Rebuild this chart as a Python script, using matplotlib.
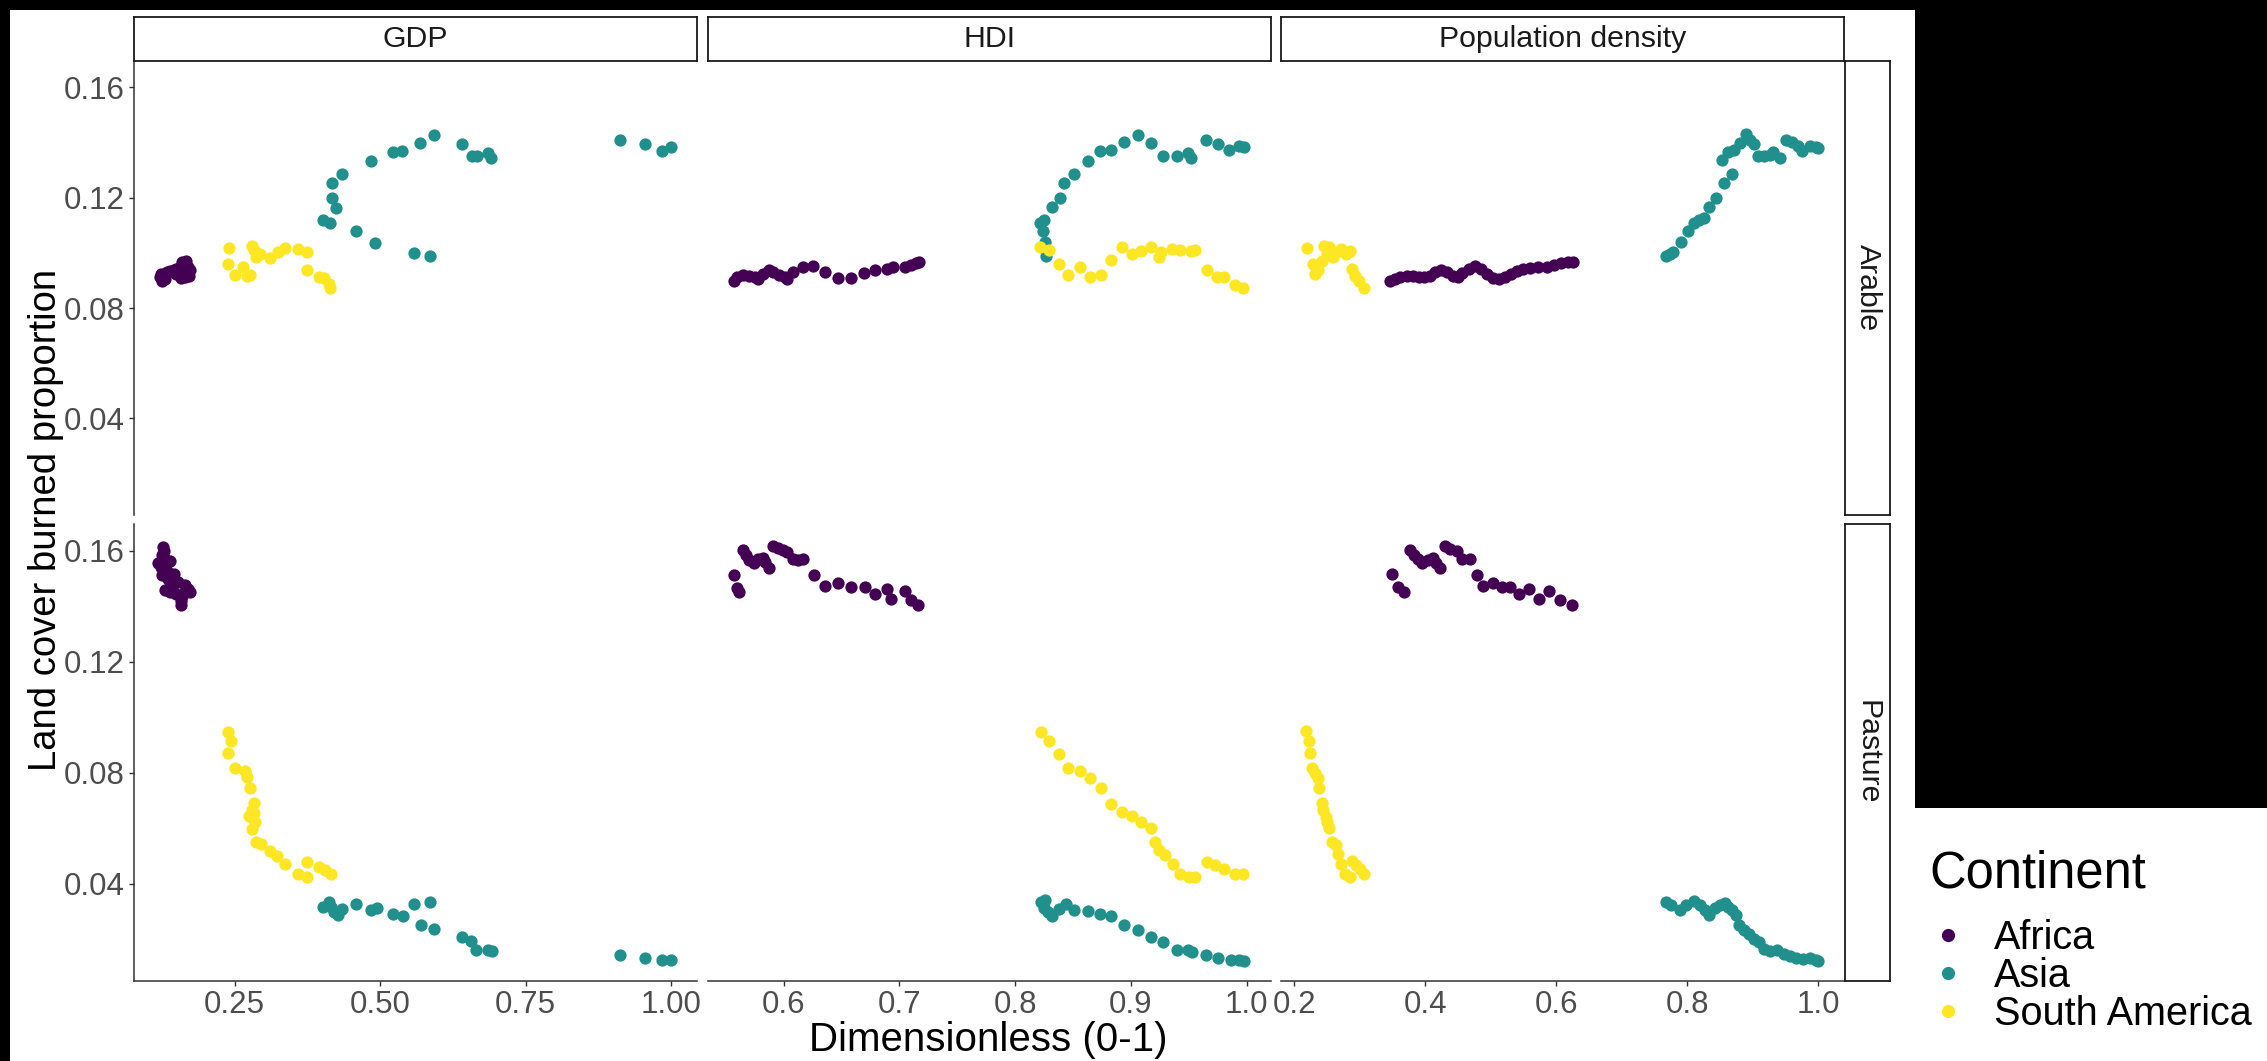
import matplotlib
matplotlib.use("Agg")
import matplotlib.pyplot as plt
from matplotlib.patches import Rectangle
from matplotlib.lines import Line2D

plt.rcParams['font.family'] = ['Liberation Sans', 'DejaVu Sans']

# ---------------- data ----------------
continents = ["Africa", "Asia", "South America"]
continent_colours = ["#440154", "#21908C", "#FDE725"]
drivers = ["GDP", "HDI", "Population density"]
land_covers = ["Arable", "Pasture"]

y_ticks = [0.04, 0.08, 0.12, 0.16]
y_tick_labels = ["0.04", "0.08", "0.12", "0.16"]
gdp_ticks = [0.25, 0.50, 0.75, 1.00]
gdp_tick_labels = ["0.25", "0.50", "0.75", "1.00"]
hdi_ticks = [0.6, 0.7, 0.8, 0.9, 1.0]
hdi_tick_labels = ["0.6", "0.7", "0.8", "0.9", "1.0"]
pop_ticks = [0.2, 0.4, 0.6, 0.8, 1.0]
pop_tick_labels = ["0.2", "0.4", "0.6", "0.8", "1.0"]

# GDP / Arable
gdp_arable_africa_x = [0.122, 0.125, 0.129, 0.134, 0.139, 0.145, 0.150, 0.155, 0.159, 0.164,
                       0.169, 0.173, 0.160, 0.157, 0.164, 0.171, 0.131, 0.124, 0.150, 0.167]
gdp_arable_africa_y = [0.0914, 0.0900, 0.0924, 0.0930, 0.0934, 0.0938, 0.0942, 0.0946, 0.0966, 0.0958,
                       0.0948, 0.0938, 0.0924, 0.0909, 0.0912, 0.0918, 0.0906, 0.0924, 0.0924, 0.0972]
gdp_arable_asia_x = [0.402, 0.414, 0.418, 0.425, 0.418, 0.434, 0.458, 0.484, 0.492, 0.522, 0.538, 0.559,
                     0.569, 0.585, 0.593, 0.641, 0.658, 0.667, 0.686, 0.690, 0.913, 0.955, 0.985, 1.000]
gdp_arable_asia_y = [0.1119, 0.1108, 0.1198, 0.1162, 0.1255, 0.1287, 0.1078, 0.1335, 0.1036, 0.1367,
                     0.1371, 0.1000, 0.1399, 0.0990, 0.1429, 0.1395, 0.1353, 0.1353, 0.1363, 0.1345,
                     0.1409, 0.1395, 0.1371, 0.1385]
gdp_arable_sam_x = [0.241, 0.239, 0.251, 0.265, 0.271, 0.276, 0.279, 0.283, 0.286, 0.293,
                    0.311, 0.325, 0.337, 0.359, 0.374, 0.374, 0.395, 0.404, 0.413, 0.414]
gdp_arable_sam_y = [0.1017, 0.0960, 0.0920, 0.0948, 0.0918, 0.0920, 0.1026, 0.1011, 0.0984, 0.0996,
                    0.0982, 0.1002, 0.1017, 0.1014, 0.1005, 0.0938, 0.0914, 0.0909, 0.0888, 0.0872]

# GDP / Pasture
gdp_pasture_africa_x = [0.127, 0.129, 0.125, 0.131, 0.139, 0.118, 0.124, 0.134, 0.145, 0.125, 0.136, 0.153,
                        0.164, 0.131, 0.143, 0.169, 0.150, 0.160, 0.157, 0.157, 0.139, 0.173, 0.164]
gdp_pasture_africa_y = [0.1614, 0.1600, 0.1584, 0.1569, 0.1564, 0.1554, 0.1542, 0.1528, 0.1516, 0.1512,
                        0.1497, 0.1488, 0.1476, 0.1458, 0.1464, 0.1461, 0.1444, 0.1436, 0.1420, 0.1404,
                        0.1452, 0.1452, 0.1452]
gdp_pasture_asia_x = [0.402, 0.413, 0.416, 0.421, 0.427, 0.434, 0.458, 0.484, 0.494, 0.522, 0.539, 0.559,
                      0.571, 0.585, 0.593, 0.641, 0.657, 0.665, 0.686, 0.692, 0.913, 0.955, 0.985, 1.000]
gdp_pasture_asia_y = [0.0316, 0.0334, 0.0316, 0.0298, 0.0286, 0.0310, 0.0326, 0.0304, 0.0313, 0.0292,
                      0.0282, 0.0326, 0.0250, 0.0334, 0.0235, 0.0208, 0.0193, 0.0160, 0.0160, 0.0156,
                      0.0142, 0.0133, 0.0126, 0.0124]
gdp_pasture_sam_x = [0.239, 0.244, 0.239, 0.251, 0.267, 0.271, 0.276, 0.283, 0.279, 0.274, 0.284, 0.285,
                     0.279, 0.286, 0.295, 0.311, 0.323, 0.336, 0.359, 0.374, 0.374, 0.395, 0.406, 0.415]
gdp_pasture_sam_y = [0.0947, 0.0915, 0.0869, 0.0815, 0.0806, 0.0785, 0.0743, 0.0689, 0.0665, 0.0643,
                     0.0653, 0.0623, 0.0598, 0.0550, 0.0544, 0.0518, 0.0499, 0.0472, 0.0436, 0.0478,
                     0.0424, 0.0460, 0.0448, 0.0436]

# HDI / Arable
hdi_arable_africa_x = [0.557, 0.560, 0.565, 0.570, 0.575, 0.578, 0.582, 0.587, 0.591, 0.596, 0.601, 0.603,
                       0.608, 0.617, 0.625, 0.636, 0.647, 0.658, 0.669, 0.679, 0.689, 0.694, 0.705, 0.710,
                       0.714, 0.717]
hdi_arable_africa_y = [0.0897, 0.0912, 0.0921, 0.0918, 0.0914, 0.0906, 0.0924, 0.0938, 0.0930, 0.0921,
                       0.0912, 0.0906, 0.0930, 0.0948, 0.0952, 0.0930, 0.0909, 0.0909, 0.0926, 0.0938,
                       0.0942, 0.0948, 0.0948, 0.0956, 0.0962, 0.0968]
hdi_arable_asia_x = [0.821, 0.825, 0.824, 0.826, 0.827, 0.826, 0.832, 0.839, 0.842, 0.851, 0.863, 0.873,
                     0.883, 0.894, 0.906, 0.917, 0.928, 0.940, 0.949, 0.952, 0.965, 0.975, 0.985, 0.993,
                     0.998]
hdi_arable_asia_y = [0.1110, 0.1119, 0.1080, 0.1038, 0.0990, 0.1014, 0.1165, 0.1198, 0.1255, 0.1288,
                     0.1335, 0.1369, 0.1373, 0.1403, 0.1429, 0.1397, 0.1353, 0.1353, 0.1363, 0.1345,
                     0.1411, 0.1395, 0.1373, 0.1387, 0.1383]
hdi_arable_sam_x = [0.821, 0.829, 0.838, 0.846, 0.856, 0.865, 0.874, 0.883, 0.892, 0.901, 0.909, 0.917,
                    0.924, 0.926, 0.935, 0.942, 0.952, 0.955, 0.966, 0.974, 0.980, 0.990, 0.997]
hdi_arable_sam_y = [0.1020, 0.1011, 0.0960, 0.0921, 0.0948, 0.0914, 0.0921, 0.0974, 0.1023, 0.0998,
                    0.1008, 0.1020, 0.0984, 0.1002, 0.1014, 0.1011, 0.1008, 0.1011, 0.0938, 0.0912,
                    0.0912, 0.0885, 0.0872]

# HDI / Pasture
hdi_pasture_africa_x = [0.557, 0.560, 0.561, 0.565, 0.567, 0.570, 0.574, 0.578, 0.582, 0.584, 0.587, 0.591,
                        0.595, 0.599, 0.603, 0.608, 0.612, 0.617, 0.626, 0.636, 0.647, 0.658, 0.670, 0.679,
                        0.689, 0.693, 0.705, 0.710, 0.716]
hdi_pasture_africa_y = [0.1512, 0.1464, 0.1452, 0.1602, 0.1584, 0.1566, 0.1554, 0.1569, 0.1572, 0.1560,
                        0.1539, 0.1617, 0.1608, 0.1602, 0.1596, 0.1569, 0.1566, 0.1569, 0.1512, 0.1474,
                        0.1485, 0.1470, 0.1470, 0.1442, 0.1461, 0.1426, 0.1455, 0.1422, 0.1404]
hdi_pasture_asia_x = [0.822, 0.826, 0.825, 0.828, 0.832, 0.838, 0.844, 0.851, 0.863, 0.873, 0.883, 0.894,
                      0.906, 0.917, 0.928, 0.940, 0.949, 0.953, 0.965, 0.975, 0.986, 0.993, 0.998]
hdi_pasture_asia_y = [0.0334, 0.0340, 0.0313, 0.0298, 0.0282, 0.0310, 0.0328, 0.0306, 0.0301, 0.0292,
                      0.0282, 0.0250, 0.0234, 0.0208, 0.0190, 0.0160, 0.0162, 0.0154, 0.0142, 0.0133,
                      0.0126, 0.0126, 0.0121]
hdi_pasture_sam_x = [0.822, 0.829, 0.838, 0.846, 0.856, 0.865, 0.874, 0.883, 0.892, 0.901, 0.909, 0.917,
                     0.921, 0.924, 0.929, 0.936, 0.942, 0.950, 0.955, 0.966, 0.973, 0.980, 0.990, 0.997]
hdi_pasture_sam_y = [0.0947, 0.0915, 0.0867, 0.0815, 0.0806, 0.0779, 0.0743, 0.0686, 0.0659, 0.0643,
                     0.0623, 0.0599, 0.0550, 0.0520, 0.0502, 0.0472, 0.0436, 0.0424, 0.0424, 0.0478,
                     0.0466, 0.0454, 0.0436, 0.0436]

# Population density / Arable
pop_arable_africa_x = [0.347, 0.354, 0.362, 0.372, 0.381, 0.390, 0.399, 0.407, 0.415, 0.424, 0.433, 0.442,
                       0.450, 0.457, 0.467, 0.476, 0.485, 0.494, 0.503, 0.513, 0.522, 0.531, 0.540, 0.549,
                       0.560, 0.573, 0.586, 0.597, 0.608, 0.618, 0.626]
pop_arable_africa_y = [0.0897, 0.0906, 0.0912, 0.0916, 0.0918, 0.0914, 0.0912, 0.0918, 0.0930, 0.0938,
                       0.0930, 0.0918, 0.0912, 0.0926, 0.0942, 0.0954, 0.0942, 0.0924, 0.0909, 0.0906,
                       0.0914, 0.0924, 0.0936, 0.0942, 0.0946, 0.0948, 0.0950, 0.0958, 0.0962, 0.0966,
                       0.0968]
pop_arable_asia_x = [0.767, 0.773, 0.779, 0.790, 0.801, 0.810, 0.818, 0.825, 0.834, 0.844, 0.856, 0.868,
                     0.853, 0.862, 0.871, 0.880, 0.890, 0.896, 0.902, 0.908, 0.917, 0.926, 0.931, 0.941,
                     0.951, 0.960, 0.969, 0.975, 0.988, 0.997, 1.000]
pop_arable_asia_y = [0.0990, 0.0996, 0.1002, 0.1038, 0.1078, 0.1110, 0.1119, 0.1126, 0.1165, 0.1198,
                     0.1255, 0.1288, 0.1337, 0.1367, 0.1375, 0.1399, 0.1432, 0.1411, 0.1395, 0.1353,
                     0.1351, 0.1357, 0.1367, 0.1343, 0.1411, 0.1401, 0.1387, 0.1369, 0.1387, 0.1383,
                     0.1379]
pop_arable_sam_x = [0.220, 0.229, 0.232, 0.236, 0.242, 0.246, 0.250, 0.254, 0.260, 0.264, 0.272, 0.279,
                    0.286, 0.289, 0.293, 0.299, 0.307]
pop_arable_sam_y = [0.1018, 0.0960, 0.0924, 0.0938, 0.0972, 0.1026, 0.0998, 0.1020, 0.0984, 0.1002,
                    0.1014, 0.0998, 0.1008, 0.0942, 0.0918, 0.0900, 0.0872]

# Population density / Pasture
pop_pasture_africa_x = [0.350, 0.358, 0.367, 0.377, 0.383, 0.389, 0.395, 0.404, 0.412, 0.416, 0.422, 0.430,
                        0.438, 0.448, 0.456, 0.469, 0.479, 0.489, 0.503, 0.518, 0.530, 0.543, 0.559, 0.574,
                        0.589, 0.606, 0.624]
pop_pasture_africa_y = [0.1515, 0.1470, 0.1452, 0.1602, 0.1584, 0.1569, 0.1554, 0.1566, 0.1572, 0.1557,
                        0.1539, 0.1617, 0.1605, 0.1600, 0.1569, 0.1569, 0.1512, 0.1474, 0.1485, 0.1470,
                        0.1470, 0.1442, 0.1461, 0.1426, 0.1455, 0.1422, 0.1404]
pop_pasture_asia_x = [0.767, 0.776, 0.789, 0.798, 0.810, 0.819, 0.827, 0.834, 0.842, 0.850, 0.857, 0.862,
                      0.868, 0.874, 0.879, 0.887, 0.894, 0.902, 0.910, 0.917, 0.926, 0.937, 0.947, 0.957,
                      0.966, 0.977, 0.988, 0.997, 1.000]
pop_pasture_asia_y = [0.0334, 0.0322, 0.0306, 0.0322, 0.0338, 0.0322, 0.0306, 0.0286, 0.0313, 0.0322,
                      0.0330, 0.0316, 0.0304, 0.0286, 0.0250, 0.0234, 0.0217, 0.0202, 0.0190, 0.0166,
                      0.0157, 0.0160, 0.0148, 0.0138, 0.0133, 0.0130, 0.0133, 0.0126, 0.0121]
pop_pasture_sam_x = [0.218, 0.222, 0.225, 0.228, 0.232, 0.237, 0.238, 0.242, 0.244, 0.248, 0.250, 0.254,
                     0.258, 0.264, 0.267, 0.272, 0.277, 0.285, 0.289, 0.295, 0.301, 0.307]
pop_pasture_sam_y = [0.0951, 0.0915, 0.0869, 0.0815, 0.0797, 0.0779, 0.0743, 0.0689, 0.0665, 0.0641,
                     0.0623, 0.0599, 0.0550, 0.0538, 0.0508, 0.0472, 0.0436, 0.0424, 0.0482, 0.0466,
                     0.0454, 0.0436]

# ---------------- panel lookup ----------------
panels = {
    ("GDP", "Arable"): [(gdp_arable_africa_x, gdp_arable_africa_y),
                        (gdp_arable_asia_x, gdp_arable_asia_y),
                        (gdp_arable_sam_x, gdp_arable_sam_y)],
    ("GDP", "Pasture"): [(gdp_pasture_africa_x, gdp_pasture_africa_y),
                         (gdp_pasture_asia_x, gdp_pasture_asia_y),
                         (gdp_pasture_sam_x, gdp_pasture_sam_y)],
    ("HDI", "Arable"): [(hdi_arable_africa_x, hdi_arable_africa_y),
                        (hdi_arable_asia_x, hdi_arable_asia_y),
                        (hdi_arable_sam_x, hdi_arable_sam_y)],
    ("HDI", "Pasture"): [(hdi_pasture_africa_x, hdi_pasture_africa_y),
                         (hdi_pasture_asia_x, hdi_pasture_asia_y),
                         (hdi_pasture_sam_x, hdi_pasture_sam_y)],
    ("Population density", "Arable"): [(pop_arable_africa_x, pop_arable_africa_y),
                                       (pop_arable_asia_x, pop_arable_asia_y),
                                       (pop_arable_sam_x, pop_arable_sam_y)],
    ("Population density", "Pasture"): [(pop_pasture_africa_x, pop_pasture_africa_y),
                                        (pop_pasture_asia_x, pop_pasture_asia_y),
                                        (pop_pasture_sam_x, pop_pasture_sam_y)],
}
x_axis_setup = {
    "GDP": ((0.077, 1.0455), gdp_ticks, gdp_tick_labels),
    "HDI": ((0.5343, 1.0213), hdi_ticks, hdi_tick_labels),
    "Population density": ((0.1794, 1.0393), pop_ticks, pop_tick_labels),
}
y_limits = (0.0050, 0.1696)

# ---------------- layout (pixels) ----------------
W, H, DPI = 2267, 1061, 100
fig = plt.figure(figsize=(W / DPI, H / DPI), dpi=DPI, facecolor="white")


def box(x0, y0, x1, y1):
    return [x0 / W, 1 - y1 / H, (x1 - x0) / W, (y1 - y0) / H]


col_px = [(134.0, 697.4), (707.7, 1271.4), (1280.6, 1844.0)]
row_px = [(61.0, 515.0), (524.0, 980.7)]
strip_top = (17.3, 61.0)
strip_right = (1845.0, 1890.4)

# dark surround of the screenshot
for rx0, ry0, rx1, ry1 in [(0, 0, W, 10), (0, 0, 10, H), (1915, 0, W, 808)]:
    fig.patches.append(Rectangle((rx0 / W, 1 - ry1 / H), (rx1 - rx0) / W, (ry1 - ry0) / H,
                                 transform=fig.transFigure, facecolor="black",
                                 edgecolor="none", zorder=0))

axis_col = "#333333"
tick_txt = "#4D4D4D"
tick_fs = 22.5
strip_fs = 21.8
dot_area = 78
draw_order = [0, 2, 1]  # Africa, South America, Asia

for ci, drv in enumerate(drivers):
    xlim, xt, xtl = x_axis_setup[drv]
    for ri, lc in enumerate(land_covers):
        x0, x1 = col_px[ci]
        y0, y1 = row_px[ri]
        ax = fig.add_axes(box(x0, y0, x1, y1))
        ax.set_facecolor("white")
        for k in draw_order:
            xs, ys = panels[(drv, lc)][k]
            ax.scatter(xs, ys, s=dot_area, color=continent_colours[k],
                       linewidths=0, zorder=3 + k)
        ax.set_xlim(*xlim)
        ax.set_ylim(*y_limits)
        for side in ["top", "right"]:
            ax.spines[side].set_visible(False)
        ax.spines["left"].set_visible(ci == 0)
        ax.spines["bottom"].set_visible(ri == 1)
        for side in ["left", "bottom"]:
            ax.spines[side].set_color(axis_col)
            ax.spines[side].set_linewidth(1.1)
        ax.set_xticks(xt)
        ax.set_yticks(y_ticks)
        if ri == 1:
            ax.set_xticklabels(xtl)
            ax.tick_params(axis="x", length=3.6, width=1.0, color=axis_col,
                           labelsize=tick_fs, labelcolor=tick_txt, pad=3.2)
        else:
            ax.tick_params(axis="x", bottom=False, labelbottom=False)
        if ci == 0:
            ax.set_yticklabels(y_tick_labels)
            ax.tick_params(axis="y", length=3.6, width=1.0, color=axis_col,
                           labelsize=tick_fs, labelcolor=tick_txt, pad=3)
        else:
            ax.tick_params(axis="y", left=False, labelleft=False)

# facet strips
for ci, drv in enumerate(drivers):
    x0, x1 = col_px[ci]
    sax = fig.add_axes(box(x0, strip_top[0], x1, strip_top[1]))
    sax.set_xticks([]); sax.set_yticks([])
    sax.set_facecolor("white")
    for sp in sax.spines.values():
        sp.set_linewidth(1.3); sp.set_color("#1A1A1A")
    sax.text(0.5, 0.5, drv, ha="center", va="center", fontsize=strip_fs,
             color="#1A1A1A", transform=sax.transAxes)

for ri, lc in enumerate(land_covers):
    y0, y1 = row_px[ri]
    sax = fig.add_axes(box(strip_right[0], y0, strip_right[1], y1))
    sax.set_xticks([]); sax.set_yticks([])
    sax.set_facecolor("white")
    for sp in sax.spines.values():
        sp.set_linewidth(1.3); sp.set_color("#1A1A1A")
    sax.text(0.5, 0.5, lc, ha="center", va="center", rotation=-90,
             fontsize=strip_fs, color="#1A1A1A", transform=sax.transAxes)

# axis titles
fig.text(988 / W, 1 - 1040 / H, "Dimensionless (0-1)", ha="center", va="center",
         fontsize=29, color="black")
fig.text(46 / W, 1 - 520 / H, "Land cover burned proportion", ha="center", va="center",
         rotation=90, fontsize=27.5, color="black")

# legend
handles = [Line2D([], [], marker="o", linestyle="", markersize=9.5, markeredgewidth=0,
                  color=c) for c in continent_colours]
leg = fig.legend(handles, continents, title="Continent", loc="upper left",
                 bbox_to_anchor=(1929 / W, 1 - 850 / H), frameon=False,
                 fontsize=28.5, title_fontsize=36.5, alignment="left",
                 borderaxespad=0, borderpad=0, handlelength=0.98,
                 handletextpad=0.66, labelspacing=0.0)
leg._legend_box.sep = 14.5

fig.savefig("out.png", dpi=DPI, facecolor="white")
